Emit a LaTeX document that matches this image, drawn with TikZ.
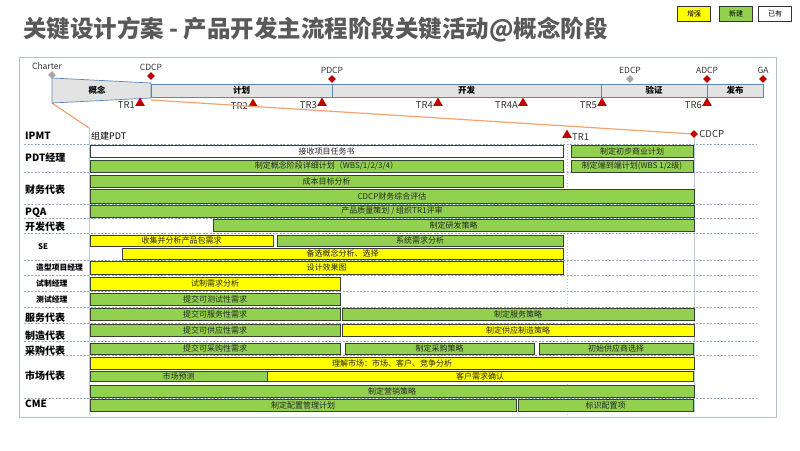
\documentclass[tikz,border=0pt]{standalone}
\usepackage{fontspec}
\setmainfont{Noto Sans CJK SC}
\usepackage{xcolor}
\usepackage{tikz}
\usetikzlibrary{shapes.geometric, positioning, calc}
\definecolor{grn}{HTML}{92D050}
\definecolor{ylw}{HTML}{FFFF00}
\definecolor{barline}{HTML}{3A3F33}
\definecolor{titlegray}{HTML}{595959}
\definecolor{phasefill}{HTML}{E3E3E3}
\definecolor{phaseline}{HTML}{5A86B8}
\definecolor{gatered}{HTML}{C00000}
\definecolor{gategray}{HTML}{A6A6A6}
\definecolor{zoomorange}{HTML}{F2A46B}
\definecolor{framecol}{HTML}{B4BDC9}
\definecolor{sepblue}{HTML}{8FA9C9}
\definecolor{vline}{HTML}{B8CCE4}
\tikzset{
  actbar/.style={rectangle, draw=barline, line width=0.7pt, inner sep=0pt, minimum height=12pt, font=\fontsize{8}{8.5}\selectfont, text=black!85},
  grnbar/.style={actbar, fill=grn},
  ylwbar/.style={actbar, fill=ylw},
  whtbar/.style={actbar, fill=white},
  role/.style={anchor=west, inner sep=0pt, font=\bfseries\fontsize{10}{10}\selectfont},
  subrole/.style={anchor=west, inner sep=0pt, font=\bfseries\fontsize{7.8}{8}\selectfont},
  phase/.style={rectangle, draw=phaseline, fill=phasefill, line width=0.7pt, minimum height=13pt, inner sep=0pt, font=\bfseries\fontsize{8.5}{9}\selectfont},
  gate/.style={diamond, fill=gatered, minimum size=8pt, inner sep=0pt},
  trmark/.style={regular polygon, regular polygon sides=3, fill=gatered, minimum size=11pt, inner sep=0pt},
  mslabel/.style={font=\fontsize{8.5}{9}\selectfont, text=black!80, inner sep=1pt},
  trlabel/.style={font=\fontsize{9.5}{10}\selectfont, text=black!80, inner sep=1.5pt, yshift=-2pt},
  legend/.style={rectangle, draw=black!80, line width=0.6pt, minimum width=33pt, minimum height=15pt, inner sep=0pt, font=\fontsize{7}{7}\selectfont},
  sepline/.style={draw=sepblue, dash pattern=on 2pt off 1.5pt, line width=0.6pt},
  zoomline/.style={draw=zoomorange, line width=1.2pt},
}

\begin{document}
\begin{tikzpicture}[x=1pt, y=-1pt]
\useasboundingbox (0,0) rectangle (800,450);

% title and legend
\node[anchor=west, inner sep=0pt, text=titlegray, font=\bfseries\fontsize{23.5}{26}\selectfont] (title) at (23,30) {关键设计方案 - 产品开发主流程阶段关键活动@概念阶段};
\node[legend, fill=ylw] (lgadd) at (694,13.5) {增强};
\node[legend, fill=grn] (lgnew) at (736,13.5) {新建};
\node[legend, fill=white] (lgold) at (775,13.5) {已有};

\draw[framecol, line width=0.8pt] (19,57) rectangle (776,417);

% zoom lines from concept phase
\coordinate (cbl) at (52,103);
\coordinate (cbr) at (151,100);
\coordinate (dtop) at (89,128);
\coordinate (dbot) at (89,415);
\draw[zoomline] (cbl) -- (dtop);

% phase bar
\coordinate (ctl) at (52,78);
\coordinate (ctr) at (151,83);
\coordinate (cbr2) at (151,98);
\draw[phaseline, fill=phasefill, line width=0.7pt] (ctl) -- (ctr) -- (cbr2) -- (cbl) -- cycle;
\node[font=\bfseries\fontsize{8.5}{9}\selectfont] (concept) at (97,90.5) {概念};
\node[phase, minimum width=181pt] (plan) at (241.5,90.5) {计划};
\node[phase, minimum width=269pt] (develop) at (466.5,90.5) {开发};
\node[phase, minimum width=106pt] (verify) at (654,90.5) {验证};
\node[phase, minimum width=56pt] (launch) at (735,90.5) {发布};

% decision checkpoints
\node[gate, fill=gategray, label={[mslabel, xshift=-5pt]above:Charter}] (charter) at (52,75) {};
\node[gate, label={[mslabel]above:CDCP}] (cdcp) at (151,76) {};
\node[gate, label={[mslabel]above:PDCP}] (pdcp) at (332,79) {};
\node[gate, fill=gategray, label={[mslabel]above:EDCP}] (edcp) at (630,79) {};
\node[gate, label={[mslabel]above:ADCP}] (adcp) at (707,79) {};
\node[gate, label={[mslabel]above:GA}] (ga) at (763,79) {};

% technical reviews
\node[trmark, label={[trlabel]left:TR1}] (tr1) at (140,103) {};
\node[trmark, label={[trlabel]left:TR2}] (tr2) at (253,104) {};
\node[trmark, label={[trlabel]left:TR3}] (tr3) at (322,103) {};
\node[trmark, label={[trlabel]left:TR4}] (tr4) at (438,103) {};
\node[trmark, label={[trlabel]left:TR4A}] (tr4a) at (523,103) {};
\node[trmark, label={[trlabel]left:TR5}] (tr5) at (602,103) {};
\node[trmark, label={[trlabel]left:TR6}] (tr6) at (707,103) {};

% detail area
\node[gate, label={[mslabel, font=\fontsize{9.5}{10}\selectfont]right:CDCP}] (cdcpd) at (694,134) {};
\node[trmark, label={[trlabel]right:TR1}] (tr1d) at (567,135) {};
\draw[zoomline] (cbr) -- (cdcpd);
\coordinate (tr1bot) at (567,415);
\coordinate (cdcpbot) at (694,412);
\draw[vline, line width=0.8pt] (dtop) -- (dbot);
\draw[sepblue!70, dash pattern=on 1.5pt off 1.5pt, line width=0.7pt] (tr1d) -- (tr1bot);
\draw[vline, line width=0.8pt] (cdcpd) -- (cdcpbot);

% row separators
\foreach \y in {144,172,204,218,233,260,275,291,307,323,341,355,398}
  \draw[sepline] (24,\y) -- (757,\y);

% roles
\node[role] (ipmt) at (25,136) {IPMT};
\node[role] (pdtm) at (25,158) {PDT经理};
\node[role] (fin) at (25,190) {财务代表};
\node[role] (pqa) at (25,213) {PQA};
\node[role] (rnd) at (25,227) {开发代表};
\node[subrole] (se) at (38,247) {SE};
\node[subrole] (idm) at (36,268) {造型项目经理};
\node[subrole] (trial) at (36,284) {试制经理};
\node[subrole] (test) at (36,300) {测试经理};
\node[role] (svc) at (25,318) {服务代表};
\node[role] (mfg) at (25,336) {制造代表};
\node[role] (pur) at (25,351) {采购代表};
\node[role] (mkt) at (25,376) {市场代表};
\node[role] (cme) at (25,404) {CME};

% activities
\node[anchor=west, inner sep=0pt, font=\fontsize{9}{10}\selectfont] (buildpdt) at (91,136) {组建PDT};
\node[whtbar, minimum width=473pt] (b1) at (326.5,151) {接收项目任务书};
\node[grnbar, minimum width=122pt] (b2) at (632,151) {制定初步商业计划};
\node[grnbar, minimum width=473pt] (b3) at (326.5,166) {制定概念阶段详细计划（WBS/1/2/3/4）};
\node[grnbar, minimum width=122pt] (b4) at (632,166) {制定端到端计划(WBS 1/2级)};
\node[grnbar, minimum width=473pt] (b5) at (326.5,181) {成本目标分析};
\node[grnbar, minimum width=604pt, minimum height=14pt] (b6) at (392,196) {CDCP财务综合评估};
\node[grnbar, minimum width=604pt] (b7) at (392,211) {产品质量策划 / 组织TR1评审};
\node[grnbar, minimum width=481pt] (b8) at (453.5,225) {制定研发策略};
\node[ylwbar, minimum width=183pt, minimum height=11pt] (b9) at (181.5,240.5) {收集并分析产品包需求};
\node[grnbar, minimum width=286pt, minimum height=11pt] (b10) at (420,240.5) {系统需求分析};
\node[ylwbar, minimum width=441pt, minimum height=11pt] (b11) at (342.5,253.5) {备选概念分析、选择};
\node[ylwbar, minimum width=473pt, minimum height=13pt] (b12) at (326.5,267.5) {设计效果图};
\node[ylwbar, minimum width=250pt, minimum height=13pt] (b13) at (215,283.5) {试制需求分析};
\node[grnbar, minimum width=250pt] (b14) at (215,299) {提交可测试性需求};
\node[grnbar, minimum width=250pt] (b15) at (215,314) {提交可服务性需求};
\node[grnbar, minimum width=352pt] (b16) at (518,314) {制定服务策略};
\node[grnbar, minimum width=250pt] (b17) at (215,330) {提交可供应性需求};
\node[ylwbar, minimum width=352pt] (b18) at (518,330) {制定供应制造策略};
\node[grnbar, minimum width=250pt, minimum height=11pt] (b19) at (215,348.5) {提交可采购性需求};
\node[grnbar, minimum width=189pt, minimum height=11pt] (b20) at (439.5,348.5) {制定采购策略};
\node[grnbar, minimum width=154pt, minimum height=11pt] (b21) at (616,348.5) {初始供应商选择};
\node[ylwbar, minimum width=604pt] (b22) at (392,363) {理解市场：市场、客户、竞争分析};
\node[ylwbar, minimum width=426pt, minimum height=10pt] (b24) at (480,376) {客户需求确认};
\node[grnbar, minimum width=177pt, minimum height=10pt] (b23) at (178.5,376) {市场预测};
\node[grnbar, minimum width=604pt] (b25) at (392,391) {制定营销策略};
\node[grnbar, minimum width=426pt] (b26) at (303,405) {制定配置管理计划};
\node[grnbar, minimum width=175pt] (b27) at (605.5,405) {标识配置项};
\end{tikzpicture}
\end{document}
